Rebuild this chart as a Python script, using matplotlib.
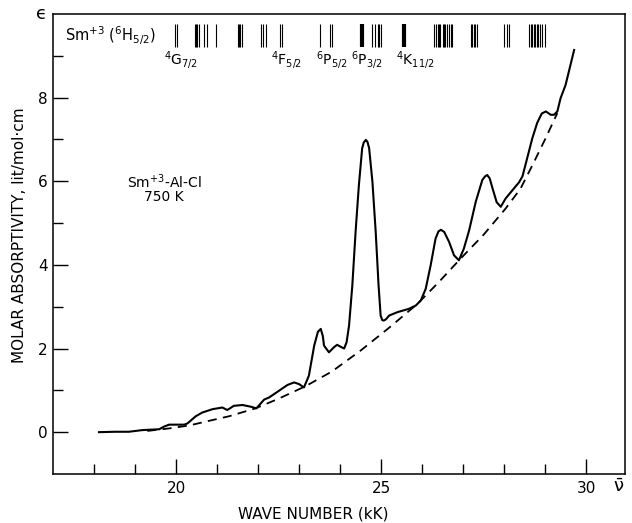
import matplotlib
matplotlib.use('Agg')
import matplotlib.pyplot as plt

plt.rcParams['font.family'] = ['DejaVu Sans']
plt.rcParams['mathtext.default'] = 'regular'

# absorption spectrum (solid)
wave = [18.12, 18.5, 18.85, 19.18, 19.59, 19.70, 19.83, 20.20, 20.28, 20.48,
        20.64, 20.89, 21.13, 21.25, 21.41, 21.62, 21.82, 21.96, 22.15, 22.27,
        22.51, 22.72, 22.88, 23.00, 23.12, 23.24, 23.37, 23.46, 23.53, 23.58,
        23.61, 23.73, 23.85, 23.93, 24.02, 24.10, 24.16, 24.22, 24.30, 24.38,
        24.46, 24.54, 24.58, 24.63, 24.67, 24.71, 24.79, 24.87, 24.94, 24.99,
        25.03, 25.07, 25.12, 25.20, 25.40, 25.68, 25.85, 25.97, 26.09, 26.21,
        26.33, 26.40, 26.46, 26.54, 26.66, 26.78, 26.90, 27.02, 27.15, 27.31,
        27.47, 27.54, 27.59, 27.65, 27.72, 27.82, 27.92, 28.04, 28.20, 28.37,
        28.45, 28.53, 28.69, 28.81, 28.92, 29.02, 29.14, 29.22, 29.30, 29.38,
        29.50, 29.71]
absorb = [0.00, 0.01, 0.01, 0.05, 0.07, 0.13, 0.18, 0.18, 0.21, 0.38,
          0.47, 0.55, 0.59, 0.53, 0.63, 0.65, 0.61, 0.57, 0.78, 0.83,
          0.99, 1.13, 1.19, 1.15, 1.07, 1.35, 2.07, 2.40, 2.47, 2.30,
          2.07, 1.91, 2.03, 2.09, 2.04, 2.00, 2.15, 2.55, 3.51, 4.80,
          5.91, 6.79, 6.93, 6.99, 6.94, 6.79, 5.99, 4.79, 3.51, 2.79,
          2.68, 2.67, 2.70, 2.79, 2.87, 2.95, 3.03, 3.15, 3.43, 3.99,
          4.63, 4.80, 4.84, 4.79, 4.55, 4.23, 4.11, 4.39, 4.83, 5.51,
          6.03, 6.12, 6.15, 6.07, 5.83, 5.50, 5.39, 5.59, 5.78, 5.98,
          6.12, 6.42, 7.03, 7.40, 7.62, 7.67, 7.59, 7.59, 7.67, 7.99,
          8.30, 9.14]

# baseline (dashed)
base_wave = [19.30, 19.83, 20.32, 20.80, 21.29, 21.94, 22.50, 23.16, 23.80,
             24.50, 25.20, 25.89, 26.40, 26.94, 27.50, 28.04, 28.40, 28.69,
             29.00, 29.30]
base_abs = [0.03, 0.09, 0.16, 0.27, 0.38, 0.57, 0.80, 1.10, 1.45,
            1.95, 2.50, 3.07, 3.58, 4.15, 4.72, 5.35, 5.82, 6.38,
            7.00, 7.63]

# Sm+3 free-ion levels (stick marks at the top)
levels = [19.97, 20.03, 20.46, 20.49, 20.52, 20.55, 20.69, 20.76, 20.98,
          21.50, 21.54, 21.57, 21.60, 22.07, 22.12, 22.19, 22.53, 22.59,
          23.52, 23.76, 23.81, 24.79, 24.85, 24.92, 24.96, 25.00,
          26.29, 26.33, 26.38, 26.41, 26.45, 26.50, 26.53, 26.57, 26.62,
          26.65, 26.70, 26.74, 27.19, 27.23, 27.27, 27.30, 27.35,
          28.00, 28.08, 28.12, 28.61, 28.65, 28.69, 28.72, 28.76, 28.80,
          28.84, 28.88, 28.92, 28.99]
thick_levels = [24.54, 25.55]

level_names = [r'$^4$G$_{7/2}$', r'$^4$F$_{5/2}$', r'$^6$P$_{5/2}$',
               r'$^6$P$_{3/2}$', r'$^4$K$_{11/2}$']
level_name_x = [19.71, 22.31, 23.41, 24.26, 25.36]

fig = plt.figure(figsize=(6.32, 5.23), dpi=100)
ax = fig.add_axes([0.0839, 0.0937, 0.905, 0.8795])

ax.plot(wave, absorb, color='black', lw=1.5)
ax.plot(base_wave, base_abs, color='black', lw=1.3, linestyle=(0, (5, 3.5)))

ax.vlines(levels, 9.2, 9.75, color='black', lw=0.8)
ax.vlines(thick_levels, 9.2, 9.75, color='black', lw=3.0)

ax.text(17.3, 9.48, r'Sm$^{+3}$ ($^6$H$_{5/2}$)', fontsize=10.5, va='center')
for name, x in zip(level_names, level_name_x):
    ax.text(x, 8.9, name, fontsize=10, va='center', ha='left')

ax.text(19.71, 6.0, r'Sm$^{+3}$-Al-Cl', fontsize=10, ha='center', va='center')
ax.text(19.71, 5.63, '750 K', fontsize=10, ha='center', va='center')

ax.set_xlim(17, 30.95)
ax.set_ylim(-1, 10)
ax.set_xticks([20, 25, 30])
ax.set_xticks(range(18, 31), minor=True)
ax.set_yticks([0, 2, 4, 6, 8])
ax.set_yticks([1, 3, 5, 7, 9], minor=True)
ax.set_yticklabels(['0', '2', '4', '6', '8'])
ax.tick_params(which='both', direction='in', labelsize=11, width=1)
ax.tick_params(which='major', length=10.5)
ax.tick_params(which='minor', length=7.5)
ax.tick_params(axis='x', pad=5)
ax.tick_params(axis='y', pad=4)
for sp in ax.spines.values():
    sp.set_linewidth(1.1)

ax.text(-0.021, 1.0, '\u03f5', transform=ax.transAxes, fontsize=13,
        ha='center', va='center')
ax.text(30.8, -0.028, r'$\bar{\nu}$', transform=ax.get_xaxis_transform(),
        fontsize=13, ha='center', va='center')

fig.text(313 / 632, 1 - 514 / 523, 'WAVE NUMBER (kK)', fontsize=11,
         ha='center', va='center')
fig.text(20 / 632, 1 - 235 / 523, 'MOLAR ABSORPTIVITY, lit/mol\u00b7cm',
         fontsize=11, rotation=90, ha='center', va='center')

plt.savefig('out.png', dpi=100)
